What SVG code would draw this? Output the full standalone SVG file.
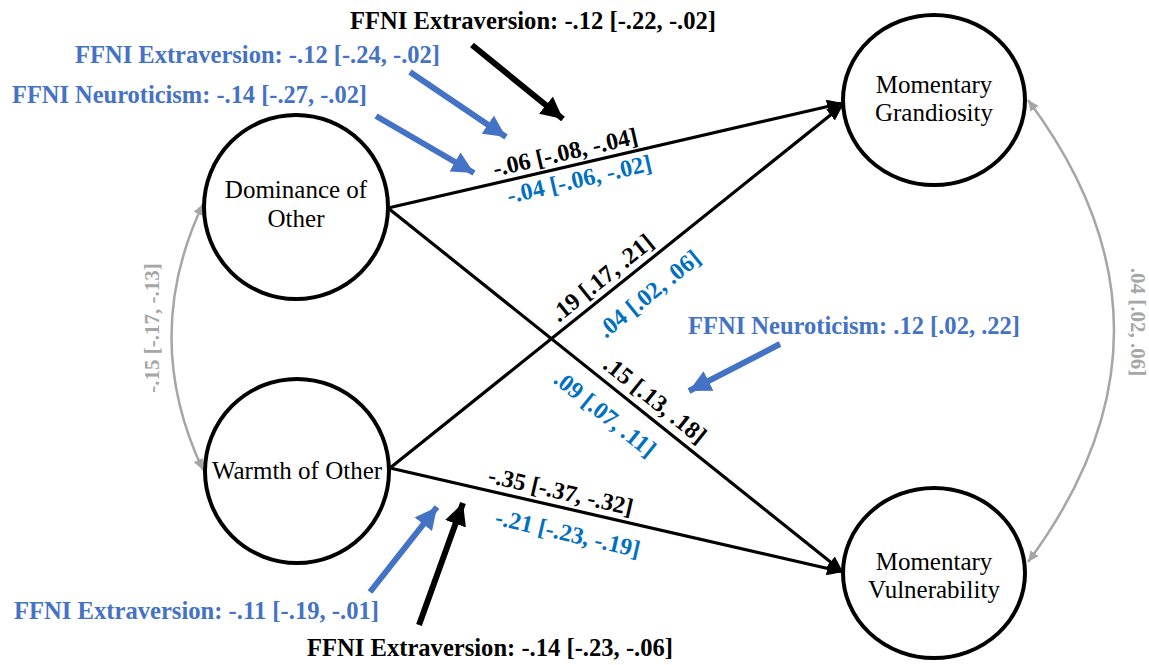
<svg xmlns="http://www.w3.org/2000/svg" width="1149" height="665" viewBox="0 0 1149 665">
<style>
.node{fill:#fff;stroke:#000;stroke-width:4}
.nt{font-family:"Liberation Serif","Times New Roman",serif;font-size:25px;fill:#000;text-anchor:middle}
.conn{stroke:#000;stroke-width:3.2;fill:none}
.cov{stroke:#A6A6A6;stroke-width:2.5;fill:none}
.lab{font-family:"Liberation Serif","Times New Roman",serif;font-weight:bold;font-size:26px}
.pl{font-family:"Liberation Serif","Times New Roman",serif;font-weight:bold;font-size:24px;text-anchor:middle}
.gl{font-family:"Liberation Serif","Times New Roman",serif;font-weight:bold;font-size:21px;fill:#A6A6A6;text-anchor:middle}
.k{fill:#000}
.b{fill:#4472C4}
.c{fill:#0070C0}
.tk{stroke:#000;stroke-width:6;fill:none}
.tb{stroke:#4472C4;stroke-width:6;fill:none}
</style>
<defs>
<marker id="ah" markerUnits="userSpaceOnUse" markerWidth="18" markerHeight="14" refX="16" refY="7" orient="auto"><path d="M0,0 L16,7 L0,14 Z" fill="#000"/></marker>
<marker id="ag" markerUnits="userSpaceOnUse" markerWidth="12" markerHeight="10" refX="11" refY="5" orient="auto-start-reverse"><path d="M0,0 L11,5 L0,10 Z" fill="#A6A6A6"/></marker>
<marker id="tk" markerUnits="userSpaceOnUse" markerWidth="24" markerHeight="22" refX="22" refY="11" orient="auto"><path d="M0,0 L22,11 L0,22 Z" fill="#000"/></marker>
<marker id="tb" markerUnits="userSpaceOnUse" markerWidth="24" markerHeight="22" refX="22" refY="11" orient="auto"><path d="M0,0 L22,11 L0,22 Z" fill="#4472C4"/></marker>
</defs>
<rect width="1149" height="665" fill="#fff"/>
<g id="connectors">
<line class="conn" x1="388" y1="208" x2="843" y2="103" marker-end="url(#ah)"/>
<line class="conn" x1="388" y1="208" x2="843" y2="572" marker-end="url(#ah)"/>
<line class="conn" x1="390" y1="468" x2="843" y2="105" marker-end="url(#ah)"/>
<line class="conn" x1="390" y1="468" x2="843" y2="572" marker-end="url(#ah)"/>
<path class="cov" d="M203,204 Q140,337 203,470" marker-start="url(#ag)" marker-end="url(#ag)"/>
<path class="cov" d="M1028,100 Q1200,330 1028,562" marker-start="url(#ag)" marker-end="url(#ag)"/>
<line class="tk" x1="472" y1="45" x2="563" y2="119" marker-end="url(#tk)"/>
<line class="tb" x1="410" y1="72" x2="506" y2="137" marker-end="url(#tb)"/>
<line class="tb" x1="376" y1="116" x2="474" y2="173" marker-end="url(#tb)"/>
<line class="tb" x1="780" y1="344" x2="689" y2="391" marker-end="url(#tb)"/>
<line class="tb" x1="370" y1="592" x2="437" y2="507" marker-end="url(#tb)"/>
<line class="tk" x1="419" y1="625" x2="463" y2="503" marker-end="url(#tk)"/>
</g>
<g id="node-dominance">
<ellipse class="node" cx="296" cy="207" rx="92" ry="92"/>
<text class="nt" x="296" y="198">Dominance of</text>
<text class="nt" x="296" y="227">Other</text>
</g>
<g id="node-warmth">
<ellipse class="node" cx="297" cy="471" rx="92" ry="92"/>
<text class="nt" x="297" y="479">Warmth of Other</text>
</g>
<g id="node-grandiosity">
<ellipse class="node" cx="934" cy="100" rx="91" ry="85"/>
<text class="nt" x="934" y="93">Momentary</text>
<text class="nt" x="934" y="121">Grandiosity</text>
</g>
<g id="node-vulnerability">
<ellipse class="node" cx="934" cy="573" rx="91" ry="85"/>
<text class="nt" x="934" y="570">Momentary</text>
<text class="nt" x="934" y="598">Vulnerability</text>
</g>
<g id="labels">
<text class="lab k" x="350" y="29" textLength="366" lengthAdjust="spacingAndGlyphs">FFNI Extraversion: -.12 [-.22, -.02]</text>
<text class="lab b" x="75" y="63" textLength="365" lengthAdjust="spacingAndGlyphs">FFNI Extraversion: -.12 [-.24, -.02]</text>
<text class="lab b" x="12" y="103" textLength="355" lengthAdjust="spacingAndGlyphs">FFNI Neuroticism: -.14 [-.27, -.02]</text>
<text class="lab b" x="688" y="334" textLength="332" lengthAdjust="spacingAndGlyphs">FFNI Neuroticism: .12 [.02, .22]</text>
<text class="lab b" x="14" y="619" textLength="365" lengthAdjust="spacingAndGlyphs">FFNI Extraversion: -.11 [-.19, -.01]</text>
<text class="lab k" x="307" y="656" textLength="366" lengthAdjust="spacingAndGlyphs">FFNI Extraversion: -.14 [-.23, -.06]</text>
<text class="pl k" transform="translate(567,160) rotate(-13)">-.06 [-.08, -.04]</text>
<text class="pl c" transform="translate(581,187) rotate(-13)">-.04 [-.06, -.02]</text>
<text class="pl k" transform="translate(607,284) rotate(-38.9)">.19 [.17, .21]</text>
<text class="pl c" transform="translate(654,300) rotate(-38.9)">.04 [.02, .06]</text>
<text class="pl k" transform="translate(650,406) rotate(38.7)">.15 [.13, .18]</text>
<text class="pl c" transform="translate(600,420) rotate(38.7)">.09 [.07, .11]</text>
<text class="pl k" transform="translate(559,499) rotate(12.9)">-.35 [-.37, -.32]</text>
<text class="pl c" transform="translate(566,541) rotate(12.9)">-.21 [-.23, -.19]</text>
<text class="gl" transform="translate(159,328) rotate(-90)">-.15 [-.17, -.13]</text>
<text class="gl" transform="translate(1131,322) rotate(90)">.04 [.02, .06]</text>
</g>
</svg>
